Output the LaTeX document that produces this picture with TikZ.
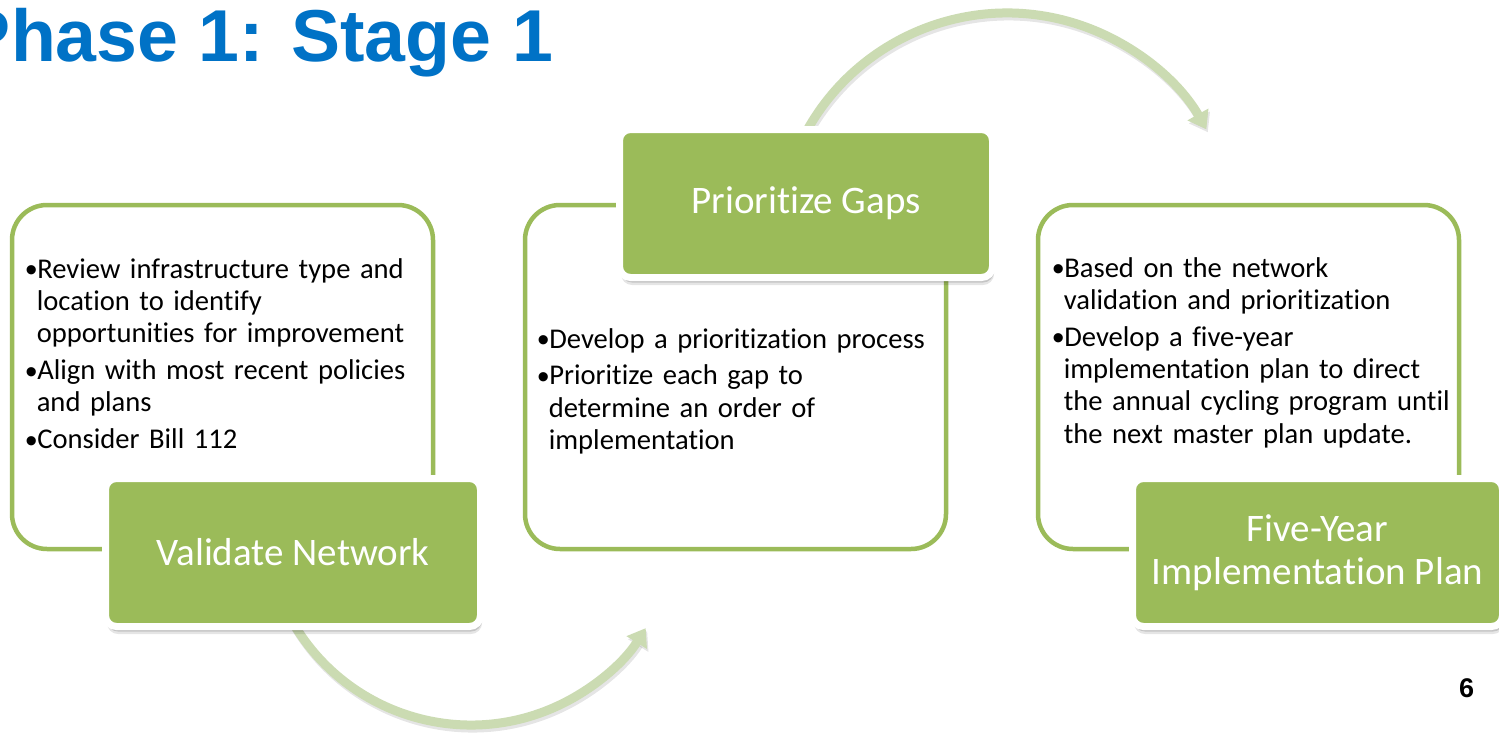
\documentclass[tikz,border=0pt]{standalone}
\usepackage{fontspec}
\setmainfont{Carlito}[Ligatures={NoCommon,TeX}]
\newfontfamily\titlefont{Liberation Sans}
\usetikzlibrary{arrows.meta,shadows}
\definecolor{grn}{HTML}{9BBB59}
\definecolor{arcg}{RGB}{203,219,178}
\definecolor{ttl}{RGB}{0,114,198}
\newcommand\bul[1]{\setbox0=\hbox to 10.8pt{\hspace{-1.2pt}\raisebox{-3.7pt}{\fontsize{34}{34}\titlefont •}\hss}\hangindent=10.3pt \hangafter=1 \noindent\box0 #1\par}
\newcommand\itemgap{\vspace{4.5pt}}
\begin{document}
\begin{tikzpicture}[x=1pt,y=1pt,
  outline/.style={draw=grn, line width=4.5pt, rounded corners=35pt, minimum width=421pt, minimum height=344pt, inner sep=0pt, outer sep=0pt, anchor=north west},
  greenbox/.style={fill=grn, draw=white, line width=7pt, rounded corners=11pt, inner sep=0pt, outer sep=0pt, text=white, font=\fontsize{39}{43}\selectfont, align=center, anchor=north west, minimum height=148pt,
    drop shadow={shadow xshift=1.5pt, shadow yshift=-5pt, opacity=0.14, fill=black},
    drop shadow={shadow xshift=1.5pt, shadow yshift=-7.5pt, opacity=0.10, fill=black}},
  body/.style={inner sep=0pt, outer sep=0pt, anchor=base west, text width=440pt, font=\fontsize{28.6}{32.3}\selectfont},
  flow/.style={draw=arcg, line width=9pt, -{Triangle[width=23pt,length=17pt]}},
  flowshadow/.style={draw=black, opacity=0.10, line width=9pt, -{Triangle[width=23pt,length=17pt]}},
  plain/.style={inner sep=0pt, outer sep=0pt}
]
\clip (0,0) rectangle (1499,-734);
\fill[white] (0,0) rectangle (1499,-734);

% arcs (behind everything)
\coordinate (c1) at (471,-519);
\coordinate (c2) at (1007,-242);
\path (c1) ++(205:206) coordinate (a1s);
\path (c2) ++(160:229) coordinate (a2s);
\draw[flowshadow] ([shift={(1.5,-3)}]a1s) arc[start angle=205, end angle=328, radius=206];
\draw[flow] (a1s) arc[start angle=205, end angle=328, radius=206];
\draw[flowshadow] ([shift={(1.5,-3)}]a2s) arc[start angle=160, end angle=29.5, radius=229];
\draw[flow] (a2s) arc[start angle=160, end angle=29.5, radius=229];

% outline boxes
\node[outline] (o1) at (12,-205) {};
\node[outline] (o2) at (525,-205) {};
\node[outline] (o3) at (1038,-205) {};

% green title boxes
\node[greenbox, minimum width=375pt] (g1) at (105.5,-478.5) {Validate Network};
\node[greenbox, minimum width=373pt] (g2) at (619.5,-129.5) {Prioritize Gaps};
\node[greenbox, minimum width=370pt] (g3) at (1132.5,-478.5) {Five-Year\\Implementation Plan};

% body texts
\node[body] (t1) at (26.5,-278) {\bul{Review infrastructure type and\newline location to identify\newline opportunities for improvement}\itemgap\bul{Align with most recent policies\newline and plans}\itemgap\bul{Consider Bill 112}};
\node[body] (t2) at (538.5,-348) {\bul{Develop a prioritization process}\itemgap\bul{Prioritize each gap to\newline determine an order of\newline implementation}};
\node[body] (t3) at (1053.5,-277) {\bul{Based on the network\newline validation and prioritization}\itemgap\bul{Develop a five-year\newline implementation plan to direct\newline the annual cycling program until\newline the next master plan update.}};

% title and page number
\node[plain, anchor=base west, text=ttl, font=\titlefont\bfseries\fontsize{73.5}{80}\selectfont] (title) at (-38,-61) {Phase 1: Stage 1};
\node[plain, anchor=base east, font=\titlefont\bfseries\fontsize{27}{30}\selectfont] (pg) at (1474,-697) {6};
\end{tikzpicture}
\end{document}
